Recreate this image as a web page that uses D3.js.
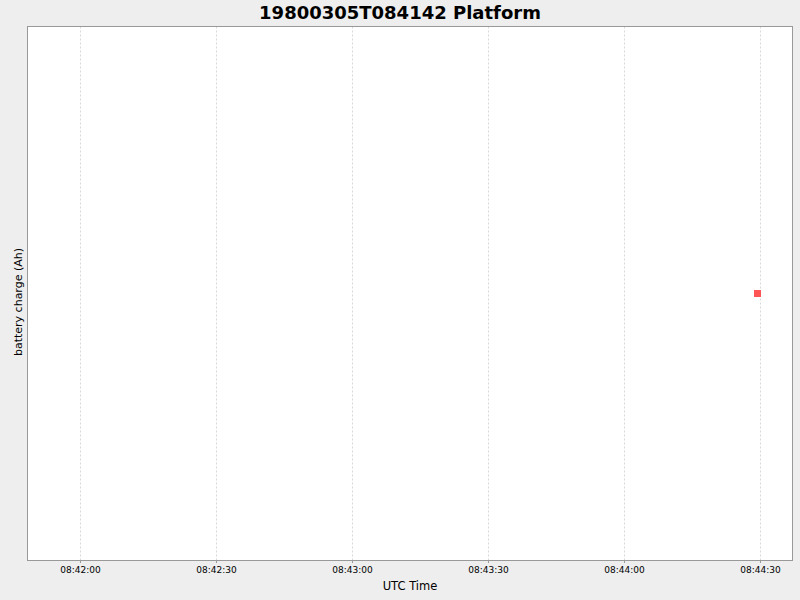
<!DOCTYPE html>
<html>
<head>
<meta charset="utf-8">
<script src="https://cdn.jsdelivr.net/npm/d3@7"></script>
<style>
  body { margin: 0; background: #eeeeee; }
  svg { display: block; font-family: "DejaVu Sans", sans-serif; }
</style>
</head>
<body>
<div id="chart"></div>
<script>
'use strict'

var outerWidth = 800;
var outerHeight = 600;
var titleText = '19800305T084142 Platform';
var xLabel = 'UTC Time';
var yLabel = 'battery charge (Ah)';

// series: one reading
var sampleTimes = ['1980-03-05T08:44:29.450Z'];
var chargeValues = [1.0];

// axis domain and tick labels
var timeDomain = ['1980-03-05T08:41:48.420Z', '1980-03-05T08:44:37.170Z'];
var chargeDomain = [0.5, 1.5];
var tickTimes = ['1980-03-05T08:42:00Z', '1980-03-05T08:42:30Z', '1980-03-05T08:43:00Z',
                 '1980-03-05T08:43:30Z', '1980-03-05T08:44:00Z', '1980-03-05T08:44:30Z'];
var tickLabels = ['08:42:00', '08:42:30', '08:43:00', '08:43:30', '08:44:00', '08:44:30'];

var plot = {left: 27.5, top: 26.5, right: 792.5, bottom: 560.5};

var svg = d3.select('#chart').append('svg')
  .attr('width', outerWidth)
  .attr('height', outerHeight);

svg.append('rect')
  .attr('width', outerWidth).attr('height', outerHeight)
  .attr('fill', '#eeeeee');

var parse = function(s){ return new Date(s); };

var xScale = d3.scaleUtc()
  .domain(timeDomain.map(parse))
  .range([plot.left, plot.right]);

var yScale = d3.scaleLinear()
  .domain(chargeDomain)
  .range([plot.bottom, plot.top]);

//plot background
svg.append('rect')
  .attr('x', plot.left).attr('y', plot.top)
  .attr('width', plot.right - plot.left)
  .attr('height', plot.bottom - plot.top)
  .attr('fill', '#ffffff');

//vertical grid lines
svg.append('g').selectAll('line')
  .data(tickTimes.map(parse))
  .enter().append('line')
    .attr('x1', function(d){return Math.round(xScale(d)) + 0.5;})
    .attr('x2', function(d){return Math.round(xScale(d)) + 0.5;})
    .attr('y1', plot.top)
    .attr('y2', plot.bottom)
    .attr('stroke', '#d8d8d8')
    .attr('stroke-width', 1)
    .attr('stroke-dasharray', '2,2');

//plot outline
svg.append('rect')
  .attr('x', plot.left).attr('y', plot.top)
  .attr('width', plot.right - plot.left)
  .attr('height', plot.bottom - plot.top)
  .attr('fill', 'none')
  .attr('stroke', '#999999')
  .attr('stroke-width', 1);

//x axis
var xAxis = d3.axisBottom(xScale)
  .tickValues(tickTimes.map(parse))
  .tickFormat(function(d, i){return tickLabels[i];})
  .tickSizeInner(2)
  .tickSizeOuter(0)
  .tickPadding(4);

var gx = svg.append('g')
  .attr('transform', 'translate(0,' + (plot.bottom + 0.5) + ')')
  .call(xAxis);
gx.select('.domain').remove();
gx.selectAll('line').attr('stroke', '#999999')
  .attr('transform', function(){ return 'translate(' + 0 + ',0)'; });
gx.selectAll('text')
  .attr('fill', '#000000')
  .style('font-size', '9px')
  .style('font-family', '"DejaVu Sans", sans-serif');

//points
svg.append('g').selectAll('rect')
  .data(sampleTimes.map(function(t, i){ return {t: parse(t), v: chargeValues[i]}; }))
  .enter().append('rect')
    .attr('x', function(d){return xScale(d.t) - 3.5;})
    .attr('y', function(d){return yScale(d.v) - 3.5;})
    .attr('width', 7)
    .attr('height', 7)
    .attr('fill', '#ff5555');

//title
svg.append('text')
  .attr('x', 400)
  .attr('y', 19)
  .attr('text-anchor', 'middle')
  .style('font-size', '18px')
  .style('font-weight', 'bold')
  .text(titleText);

//axis labels
svg.append('text')
  .attr('x', (plot.left + plot.right) / 2)
  .attr('y', 590)
  .attr('text-anchor', 'middle')
  .style('font-size', '11.5px')
  .text(xLabel);

svg.append('text')
  .attr('transform', 'translate(22,302) rotate(-90)')
  .attr('text-anchor', 'middle')
  .style('font-size', '11px')
  .text(yLabel);
</script>
</body>
</html>
